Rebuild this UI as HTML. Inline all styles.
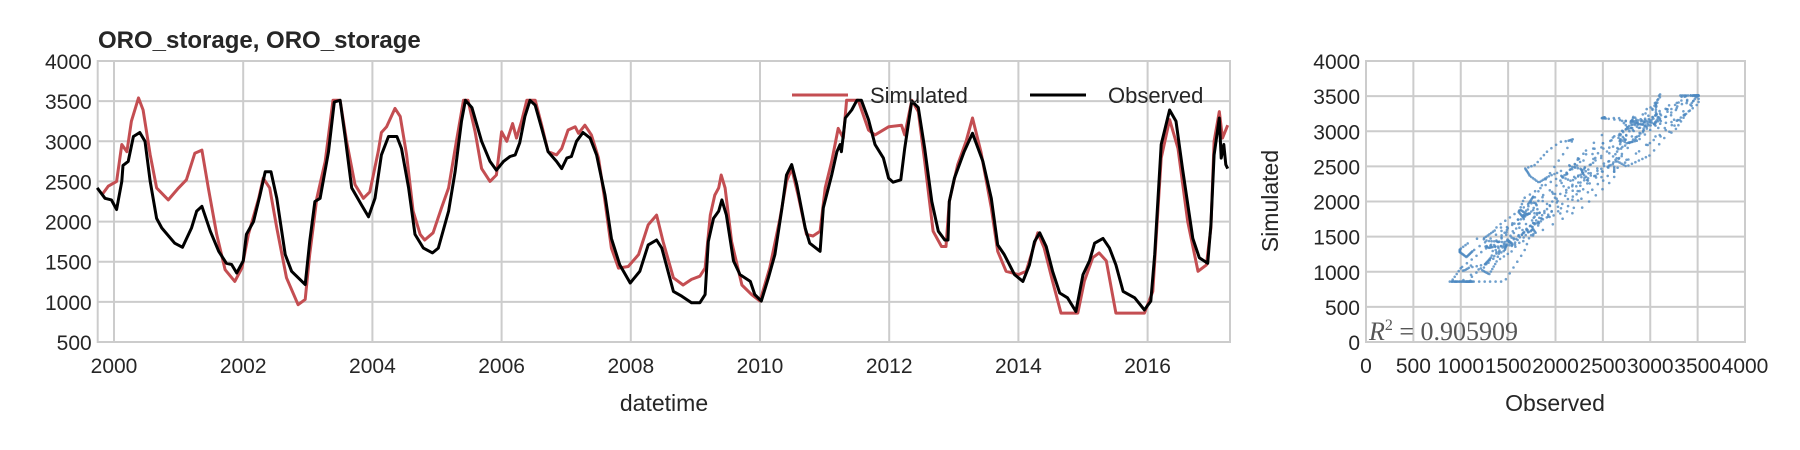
<!DOCTYPE html>
<html><head><meta charset="utf-8">
<style>
body{margin:0;background:#fff;}
svg{display:block;font-family:"Liberation Sans Narrow","Liberation Sans",sans-serif;}
.tick{font-size:21px;fill:#262626;}
</style></head>
<body>
<svg id="chart" width="1800" height="450">
<text x="98" y="48" font-size="24" font-weight="bold" fill="#262626">ORO_storage, ORO_storage</text>
<g id="left"></g>
<g id="right"></g>
</svg>
<script>
const simDates=[1999.81,1999.91,2000.04,2000.12,2000.20,2000.27,2000.38,2000.45,2000.56,2000.66,2000.84,2001.00,2001.12,2001.25,2001.36,2001.46,2001.59,2001.72,2001.87,2001.98,2002.08,2002.24,2002.31,2002.41,2002.52,2002.67,2002.85,2002.96,2003.03,2003.14,2003.27,2003.39,2003.50,2003.60,2003.73,2003.86,2003.96,2004.09,2004.14,2004.22,2004.35,2004.43,2004.53,2004.63,2004.74,2004.81,2004.94,2005.07,2005.18,2005.30,2005.41,2005.48,2005.59,2005.69,2005.82,2005.92,2006.00,2006.08,2006.17,2006.23,2006.31,2006.39,2006.52,2006.62,2006.72,2006.85,2006.93,2007.03,2007.14,2007.19,2007.29,2007.39,2007.50,2007.60,2007.70,2007.81,2007.96,2008.12,2008.27,2008.40,2008.50,2008.66,2008.81,2008.94,2009.07,2009.15,2009.23,2009.30,2009.36,2009.40,2009.46,2009.56,2009.72,2009.87,2010.00,2010.15,2010.31,2010.41,2010.49,2010.59,2010.72,2010.82,2010.93,2011.01,2011.11,2011.21,2011.29,2011.34,2011.52,2011.68,2011.78,2011.99,2012.19,2012.24,2012.35,2012.45,2012.55,2012.68,2012.81,2012.88,2012.93,2013.06,2013.19,2013.29,2013.42,2013.58,2013.68,2013.81,2014.00,2014.12,2014.20,2014.30,2014.40,2014.53,2014.66,2014.92,2015.02,2015.15,2015.25,2015.36,2015.51,2015.95,2016.08,2016.21,2016.34,2016.47,2016.62,2016.78,2016.91,2016.98,2017.03,2017.11,2017.16,2017.24];
const simValues=[2330,2440,2500,2960,2870,3250,3540,3390,2830,2420,2270,2420,2520,2850,2890,2420,1840,1400,1255,1420,1840,2290,2540,2420,1920,1300,965,1030,1590,2290,2750,3510,3510,3000,2460,2290,2370,2870,3110,3180,3410,3310,2830,2130,1840,1770,1860,2170,2420,3000,3510,3510,3120,2660,2500,2580,3120,3000,3220,3040,3250,3510,3510,3200,2870,2830,2910,3140,3180,3100,3200,3080,2790,2250,1670,1420,1440,1590,1960,2080,1750,1300,1210,1280,1320,1420,2080,2330,2420,2580,2420,1750,1210,1090,1010,1420,2040,2500,2660,2330,1840,1820,1880,2420,2750,3160,3040,3510,3510,3140,3080,3180,3200,3080,3510,3370,2750,1880,1690,1690,2250,2710,3000,3290,2870,2170,1630,1380,1340,1380,1590,1860,1670,1255,860,860,1255,1550,1610,1510,860,860,1130,2790,3270,2910,2000,1380,1460,1920,3000,3370,3040,3200];
const obsDates=[1999.74,1999.86,1999.96,2000.04,2000.12,2000.14,2000.22,2000.30,2000.40,2000.48,2000.56,2000.66,2000.74,2000.94,2001.06,2001.20,2001.28,2001.36,2001.49,2001.62,2001.74,2001.82,2001.90,2002.00,2002.05,2002.16,2002.26,2002.34,2002.43,2002.52,2002.65,2002.75,2002.96,2003.03,2003.11,2003.19,2003.32,2003.41,2003.50,2003.58,2003.68,2003.83,2003.94,2004.04,2004.14,2004.25,2004.38,2004.45,2004.56,2004.66,2004.79,2004.93,2005.02,2005.18,2005.28,2005.38,2005.44,2005.54,2005.69,2005.82,2005.92,2006.03,2006.13,2006.21,2006.28,2006.36,2006.44,2006.52,2006.62,2006.72,2006.85,2006.93,2007.01,2007.08,2007.16,2007.26,2007.37,2007.47,2007.60,2007.70,2007.83,2007.99,2008.14,2008.27,2008.40,2008.48,2008.66,2008.79,2008.94,2009.07,2009.15,2009.20,2009.28,2009.36,2009.41,2009.48,2009.59,2009.69,2009.85,2009.92,2010.02,2010.13,2010.23,2010.34,2010.41,2010.49,2010.57,2010.70,2010.77,2010.93,2010.98,2011.11,2011.19,2011.24,2011.26,2011.32,2011.42,2011.50,2011.57,2011.68,2011.78,2011.91,2011.99,2012.06,2012.18,2012.24,2012.35,2012.45,2012.55,2012.66,2012.76,2012.86,2012.91,2012.93,2013.01,2013.16,2013.29,2013.45,2013.58,2013.68,2013.78,2013.94,2014.07,2014.17,2014.25,2014.33,2014.43,2014.53,2014.64,2014.76,2014.89,2015.00,2015.10,2015.18,2015.31,2015.41,2015.51,2015.62,2015.80,2015.95,2016.05,2016.11,2016.21,2016.34,2016.44,2016.54,2016.70,2016.80,2016.93,2016.98,2017.03,2017.11,2017.14,2017.18,2017.21,2017.24];
const obsValues=[2420,2290,2270,2150,2500,2700,2750,3060,3110,3000,2500,2040,1920,1730,1680,1920,2130,2190,1880,1630,1480,1465,1360,1510,1840,2000,2330,2620,2620,2290,1590,1380,1215,1750,2250,2290,2870,3490,3510,3040,2420,2210,2060,2290,2830,3060,3060,2910,2420,1840,1670,1610,1670,2130,2620,3250,3510,3420,3000,2750,2640,2750,2810,2830,2980,3310,3510,3450,3160,2870,2750,2660,2790,2810,3000,3110,3040,2830,2330,1790,1460,1235,1380,1710,1770,1670,1130,1070,990,990,1090,1750,2040,2130,2270,2080,1510,1340,1255,1090,1010,1300,1590,2170,2580,2710,2460,1920,1730,1630,2170,2580,2870,2960,2870,3290,3390,3510,3510,3270,2960,2790,2540,2490,2520,2910,3500,3420,2910,2250,1880,1770,1770,2250,2540,2870,3100,2750,2290,1710,1590,1340,1255,1460,1750,1860,1690,1380,1110,1050,880,1340,1510,1730,1790,1670,1460,1130,1050,900,1010,1590,2960,3390,3250,2660,1790,1550,1480,1960,2830,3290,2790,2960,2710,2660];
const yTicks=[500,1000,1500,2000,2500,3000,3500,4000];
const xTickYears=[2000,2002,2004,2006,2008,2010,2012,2014,2016];
const sTicks=[0,500,1000,1500,2000,2500,3000,3500,4000];
const r2Label="0.905909";

const NS="http://www.w3.org/2000/svg";
function mk(tag,attrs,parent){const e=document.createElementNS(NS,tag);for(const k in attrs)e.setAttribute(k,attrs[k]);parent.appendChild(e);return e;}
const L={x0:97.7,x1:1230,y0:61,y1:342};
const xs=y=>114+(y-2000)*64.6;
const ys=v=>L.y1-(v-500)/3500*(L.y1-L.y0);
const left=document.getElementById('left');
const lb=mk('rect',{x:L.x0,y:L.y0,width:L.x1-L.x0,height:L.y1-L.y0,fill:'#fff',stroke:'#ccc','stroke-width':2},left);


yTicks.forEach(v=>{
  const g=mk('line',{x1:L.x0,x2:L.x1,y1:ys(v),y2:ys(v),stroke:'#ccc','stroke-width':2},left);
  
  
  const t=mk('text',{x:L.x0-6,y:ys(v)+8,'text-anchor':'end',class:'tick'},left);
  t.textContent=v;
  
  
});
xTickYears.forEach(y=>{
  const g=mk('line',{x1:xs(y),x2:xs(y),y1:L.y0,y2:L.y1,stroke:'#ccc','stroke-width':2},left);
  
  
  const t=mk('text',{x:xs(y),y:L.y1+31,'text-anchor':'middle',class:'tick'},left);
  t.textContent=y;
  
  
});
function line(d,v,color,name){
  const p=mk('polyline',{points:d.map((x,i)=>xs(x).toFixed(1)+','+ys(v[i]).toFixed(1)).join(' '),fill:'none',stroke:color,'stroke-width':3,'stroke-linejoin':'round'},left);
  
  
}
line(simDates,simValues,'#c44e52','simulated-line');
line(obsDates,obsValues,'#000','observed-line');
const xl=mk('text',{x:664,y:411,'text-anchor':'middle','font-size':23,fill:'#262626'},left);
xl.textContent='datetime';


const lg=mk('g',{},left);


[['Simulated','#c44e52',792],['Observed','#000',1030]].forEach(([n,c,x])=>{
  const e=mk('g',{},lg);
  
  
  mk('line',{x1:x,x2:x+56,y1:95,y2:95,stroke:c,'stroke-width':3},e);
  const t=mk('text',{x:x+78,y:103,'font-size':22,fill:'#262626'},e);
  t.textContent=n;
});
const R={x0:1366,x1:1745,y0:61,y1:342};
const sx=v=>R.x0+v/4000*(R.x1-R.x0);
const sy=v=>R.y1-v/4000*(R.y1-R.y0);
const right=document.getElementById('right');
const rb=mk('rect',{x:R.x0,y:R.y0,width:R.x1-R.x0,height:R.y1-R.y0,fill:'#fff',stroke:'#ccc','stroke-width':2},right);


sTicks.forEach(v=>{
  const g1=mk('line',{x1:R.x0,x2:R.x1,y1:sy(v),y2:sy(v),stroke:'#ccc','stroke-width':2},right);
  
  
  const g2=mk('line',{x1:sx(v),x2:sx(v),y1:R.y0,y2:R.y1,stroke:'#ccc','stroke-width':2},right);
  
  
  const t=mk('text',{x:R.x0-6,y:sy(v)+8,'text-anchor':'end',class:'tick'},right);
  t.textContent=v;
  
  
  const t2=mk('text',{x:sx(v),y:R.y1+31,'text-anchor':'middle',class:'tick'},right);
  t2.textContent=v;
  
  
});
function interp(d,v,t){
  if(t<=d[0])return v[0];
  for(let i=1;i<d.length;i++){if(t<=d[i]){const f=(t-d[i-1])/(d[i]-d[i-1]);return v[i-1]+f*(v[i]-v[i-1]);}}
  return v[v.length-1];
}
const pts=mk('g',{fill:'#4c88c0','fill-opacity':0.8},right);


for(let t=simDates[0];t<=obsDates[obsDates.length-1];t+=1/52){
  const o=interp(obsDates,obsValues,t),s=interp(simDates,simValues,t);
  const c=mk('circle',{cx:sx(o).toFixed(1),cy:sy(s).toFixed(1),r:1.3},pts);
  
  
}
const r2=mk('text',{x:R.x0+3,y:R.y1-2,'font-family':'Liberation Serif, serif','font-size':26,fill:'#555'},right);
r2.innerHTML='<tspan font-style="italic">R</tspan><tspan dy="-10" font-size="16">2</tspan><tspan dy="10"> = '+r2Label+'</tspan>';


const sxl=mk('text',{x:1555,y:411,'text-anchor':'middle','font-size':23,fill:'#262626'},right);
sxl.textContent='Observed';


const syl=mk('text',{x:0,y:0,transform:'translate(1278,201) rotate(-90)','text-anchor':'middle','font-size':23,fill:'#262626'},right);
syl.textContent='Simulated';


</script>
</body></html>
